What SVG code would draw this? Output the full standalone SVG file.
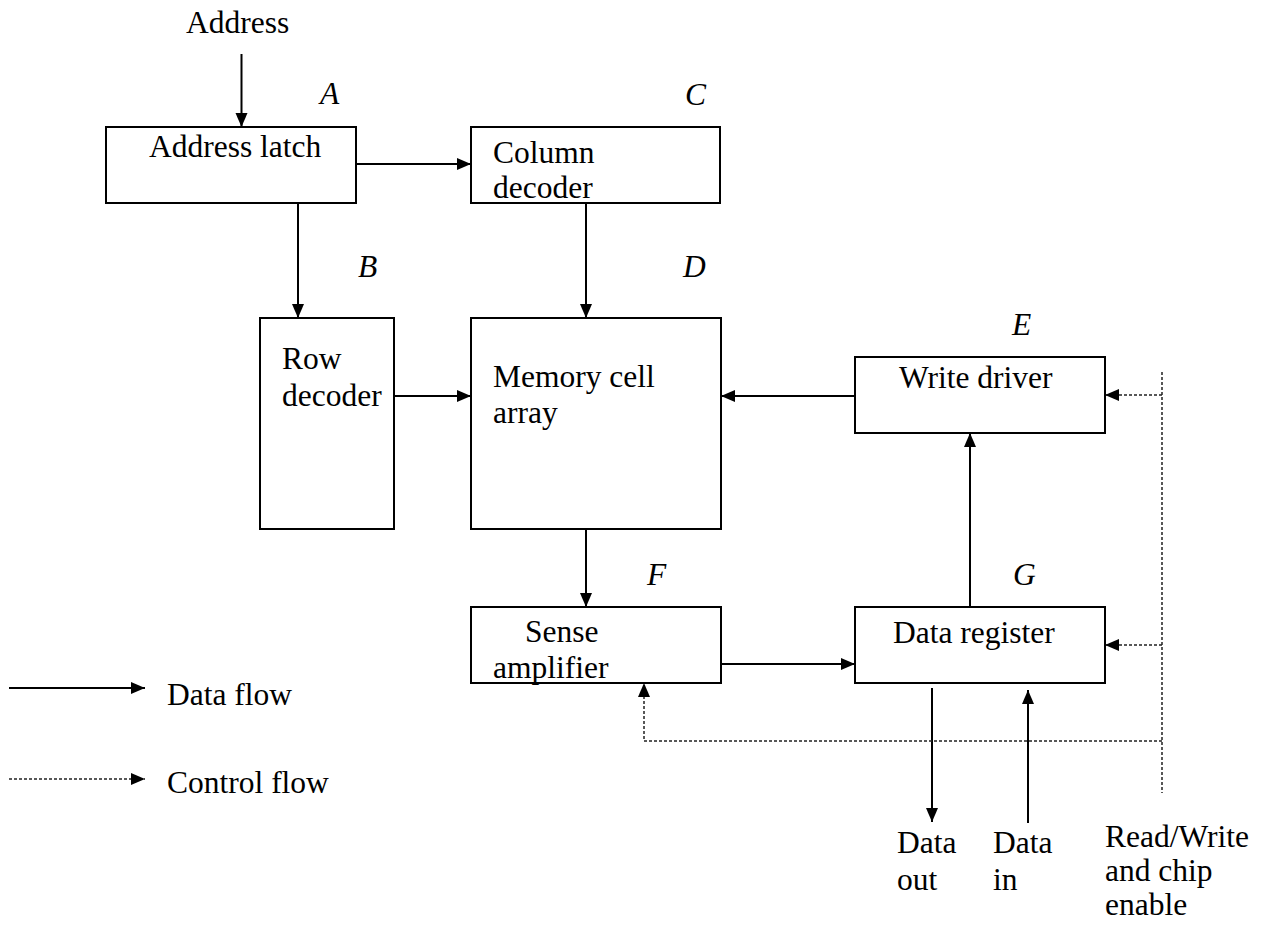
<svg xmlns="http://www.w3.org/2000/svg" width="1267" height="928" viewBox="0 0 1267 928">
<style>
text{font-family:"Liberation Serif","Times New Roman",serif;font-size:31.5px;fill:#000}
.lab{font-style:italic}
.box{fill:#fff;stroke:#000;stroke-width:2}
.data{fill:none;stroke:#000;stroke-width:2}
.ctrl{fill:none;stroke:#222;stroke-width:1.5;stroke-dasharray:3 2}
</style>
<defs>
<marker id="ah" markerUnits="userSpaceOnUse" markerWidth="15" markerHeight="13" refX="14" refY="6" orient="auto" viewBox="0 0 15 13">
<path d="M0,0 L14,6 L0,12 z" fill="#000"/>
</marker>
</defs>
<rect width="1267" height="928" fill="#fff"/>
<g id="connectors">
<path class="data" d="M241.5,54 V127" marker-end="url(#ah)"/>
<path class="data" d="M356,164 H471" marker-end="url(#ah)"/>
<path class="data" d="M298,203 V318" marker-end="url(#ah)"/>
<path class="data" d="M586,203 V318" marker-end="url(#ah)"/>
<path class="data" d="M394,396 H471" marker-end="url(#ah)"/>
<path class="data" d="M855,396 H721" marker-end="url(#ah)"/>
<path class="data" d="M586,529 V607" marker-end="url(#ah)"/>
<path class="data" d="M721,664 H855" marker-end="url(#ah)"/>
<path class="data" d="M970,607 V433" marker-end="url(#ah)"/>
<path class="data" d="M932,688 V822" marker-end="url(#ah)"/>
<path class="data" d="M1028,823 V690" marker-end="url(#ah)"/>
<path class="ctrl" d="M1162,372 V793"/>
<path class="ctrl" d="M1162,395 H1105" marker-end="url(#ah)"/>
<path class="ctrl" d="M1162,645 H1105" marker-end="url(#ah)"/>
<path class="ctrl" d="M1162,741 H644 V683" marker-end="url(#ah)"/>
</g>
<g id="address-in"><text x="186" y="33">Address</text></g>
<g id="node-A"><rect class="box" x="106" y="127" width="250" height="76"/><text x="149" y="157">Address latch</text><text class="lab" x="320" y="104">A</text></g>
<g id="node-C"><rect class="box" x="471" y="127" width="249" height="76"/><text x="493" y="163">Column</text><text x="493" y="198">decoder</text><text class="lab" x="685" y="105">C</text></g>
<g id="node-B"><rect class="box" x="260" y="318" width="134" height="211"/><text x="282" y="369">Row</text><text x="282" y="406">decoder</text><text class="lab" x="358" y="277">B</text></g>
<g id="node-D"><rect class="box" x="471" y="318" width="250" height="211"/><text x="493" y="387">Memory cell</text><text x="493" y="423">array</text><text class="lab" x="683" y="277">D</text></g>
<g id="node-E"><rect class="box" x="855" y="357" width="250" height="76"/><text x="899" y="388">Write driver</text><text class="lab" x="1012" y="335">E</text></g>
<g id="node-F"><rect class="box" x="471" y="607" width="250" height="76"/><text x="525" y="642">Sense</text><text x="493" y="678">amplifier</text><text class="lab" x="647" y="585">F</text></g>
<g id="node-G"><rect class="box" x="855" y="607" width="250" height="76"/><text x="893" y="643">Data register</text><text class="lab" x="1013" y="585">G</text></g>
<g id="io-labels">
<text x="897" y="853">Data</text><text x="897" y="890">out</text>
<text x="993" y="853">Data</text><text x="993" y="890">in</text>
<text x="1105" y="847">Read/Write</text><text x="1105" y="881">and chip</text><text x="1105" y="915">enable</text>
</g>
<g id="legend">
<path class="data" d="M9,688 H145" marker-end="url(#ah)"/>
<text x="167" y="705">Data flow</text>
<path class="ctrl" d="M9,779 H145" marker-end="url(#ah)"/>
<text x="167" y="793">Control flow</text>
</g>
</svg>
